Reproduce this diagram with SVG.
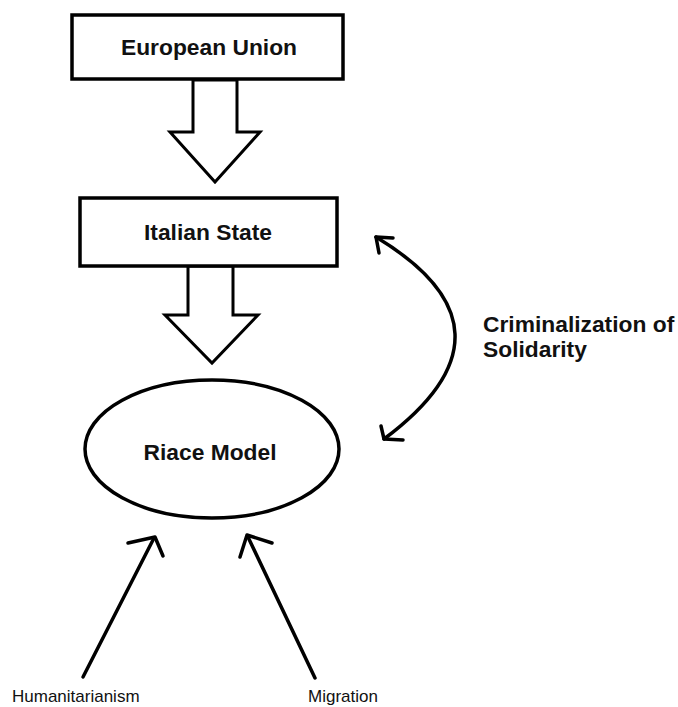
<svg xmlns="http://www.w3.org/2000/svg" width="678" height="707" viewBox="0 0 678 707">
<style>
.box{fill:#fff;stroke:#000;stroke-width:3.5}
.blk{fill:none;stroke:#000;stroke-width:3.5;stroke-linecap:round;stroke-linejoin:round}
.big{fill:#fff;stroke:#000;stroke-width:3;stroke-linejoin:miter}
.b{font-family:"Liberation Sans",Arial,sans-serif;font-weight:bold;font-size:22.8px;fill:#111;text-anchor:middle}
.r{font-family:"Liberation Sans",Arial,sans-serif;font-size:17px;fill:#111}
</style>
<rect width="678" height="707" fill="#fff"/>
<g id="connectors">
<polygon class="big" points="193,80 237,80 237,132 260,132 215,182 170,132 193,132"/>
<polygon class="big" points="188,266 233,266 233,315 258,315 212,363 165,315 188,315"/>
<path class="blk" d="M376,237 Q530,330 384,439"/>
<polyline class="blk" points="393,238 376,237 379,253"/>
<polyline class="blk" points="403,440 384,439 381,426"/>
<line class="blk" x1="83" y1="677" x2="154" y2="538"/>
<polyline class="blk" points="128,543 155,537 163,556"/>
<line class="blk" x1="315" y1="678" x2="248" y2="537"/>
<polyline class="blk" points="272,543 247,535 240,557"/>
</g>
<g id="node-eu">
<rect class="box" x="72" y="15" width="271" height="64"/>
<text class="b" x="209" y="55">European Union</text>
</g>
<g id="node-italy">
<rect class="box" x="80" y="198" width="257" height="68"/>
<text class="b" x="208" y="240">Italian State</text>
</g>
<g id="node-riace">
<ellipse class="box" cx="212" cy="449" rx="127" ry="69"/>
<text class="b" x="210" y="460">Riace Model</text>
</g>
<g id="label-crim">
<text class="b" style="text-anchor:start" x="483" y="332">Criminalization of</text>
<text class="b" style="text-anchor:start" x="483" y="357">Solidarity</text>
</g>
<g id="node-hum">
<text class="r" x="12" y="702">Humanitarianism</text>
</g>
<g id="node-mig">
<text class="r" x="308" y="702">Migration</text>
</g>
</svg>
